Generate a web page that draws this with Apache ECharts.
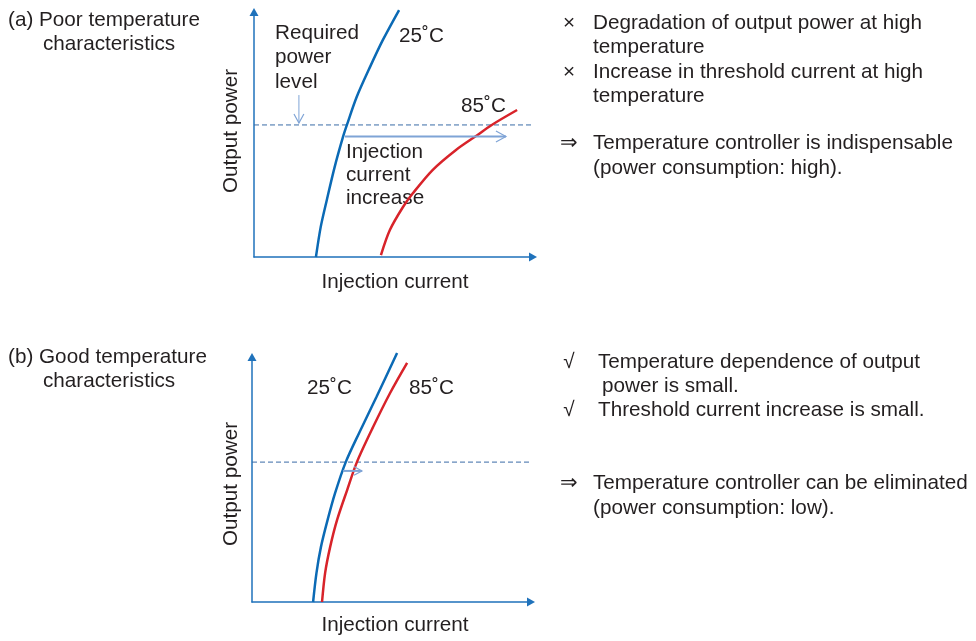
<!DOCTYPE html>
<html>
<head>
<meta charset="utf-8">
<script src="https://cdn.jsdelivr.net/npm/echarts@6/dist/echarts.min.js"></script>
<style>
html,body{margin:0;padding:0;background:#fff;}
#chart{width:976px;height:641px;}
</style>
</head>
<body>
<div id="chart"></div>
<script>
// ---- Data (arbitrary units: injection current 0..100, output power 0..100) ----
// Panel (a): poor temperature characteristics
const curveA25 = [[22.2,0],[23.9,12.2],[26.1,23.3],[28.9,36.7],[31.9,49.0],[33.3,53.9],[36.8,65.3],[41.6,77.6],[46.2,88.6],[52.0,100.8]];
const curveA85 = [[45.5,0.8],[48.7,11.0],[53.4,20.4],[57.0,26.1],[64.0,35.5],[72.4,43.7],[79.6,49.4],[85.2,53.9],[94.3,60.0]];
const requiredLevelA = 53.9;
const shiftArrowA = [32.6,49.2,90.3,49.2];
const levelArrowA = [16.1,66.1,16.1,54.7];
// Panel (b): good temperature characteristics
const curveB25 = [[21.9,0],[23.1,11.8],[24.7,22.4],[27.1,33.5],[29.8,44.5],[33.6,57.1],[38.4,69.0],[44.6,83.7],[52.0,101.6]];
const curveB85 = [[25.1,0],[26.2,11.8],[28.0,22.4],[30.5,33.5],[34.1,45.7],[37.6,57.1],[43.4,71.4],[49.5,85.3],[55.6,97.6]];
const requiredLevelB = 57.1;
const shiftArrowB = [32.6,53.5,39.4,53.5];

// ---- Texts ----
const textsA = {
  title: ['(a) Poor temperature', 'characteristics'],
  required: ['Required', 'power', 'level'],
  increase: ['Injection', 'current', 'increase'],
  t25: '25˚C', t85: '85˚C',
  notes: ['Degradation of output power at high', 'temperature', 'Increase in threshold current at high', 'temperature'],
  concl: ['Temperature controller is indispensable', '(power consumption: high).']
};
const textsB = {
  title: ['(b) Good temperature', 'characteristics'],
  t25: '25˚C', t85: '85˚C',
  notes: ['Temperature dependence of output', 'power is small.', 'Threshold current increase is small.'],
  concl: ['Temperature controller can be eliminated', '(power consumption: low).']
};
const yName = 'Output power';
const xName = 'Injection current';

const FONT = '"Liberation Sans", Arial, Helvetica, sans-serif';
const TC = '#231f20';
const FS = 20.7;
const AXC = '#1f72bb';
const BLUE = '#0b6ab5';
const RED = '#d8232a';
const DASH = '#3a6ba6';
const ARROW = '#7fa4d6';

function txt(s, x, y, opt) {
  opt = opt || {};
  return {
    type: 'text', x: x, y: y, rotation: opt.rotation || 0,
    style: { text: s, fill: TC, font: FS + 'px ' + FONT,
      align: opt.align || 'left', verticalAlign: 'middle' },
    silent: true
  };
}

const graphics = [];
// Panel (a) texts
graphics.push(txt(textsA.title[0], 8, 20), txt(textsA.title[1], 43, 44));
textsA.required.forEach((s, i) => graphics.push(txt(s, 275, 33 + i * 24.5)));
textsA.increase.forEach((s, i) => graphics.push(txt(s, 346, 152 + i * 23.3)));
graphics.push(txt(textsA.t25, 399, 36), txt(textsA.t85, 461, 106));
graphics.push(txt(yName, 231, 131, {rotation: Math.PI / 2, align: 'center'}));
graphics.push(txt(xName, 395, 282, {align: 'center'}));
graphics.push(txt('×', 569, 23, {align: 'center'}), txt(textsA.notes[0], 593, 23), txt(textsA.notes[1], 593, 47));
graphics.push(txt('×', 569, 72, {align: 'center'}), txt(textsA.notes[2], 593, 72), txt(textsA.notes[3], 593, 96));
graphics.push(txt('⇒', 560, 143), txt(textsA.concl[0], 593, 143), txt(textsA.concl[1], 593, 168));
// Panel (b) texts
graphics.push(txt(textsB.title[0], 8, 357), txt(textsB.title[1], 43, 381));
graphics.push(txt(textsB.t25, 307, 388), txt(textsB.t85, 409, 388));
graphics.push(txt(yName, 231, 484, {rotation: Math.PI / 2, align: 'center'}));
graphics.push(txt(xName, 395, 625, {align: 'center'}));
graphics.push(txt('√', 569, 362, {align: 'center'}), txt(textsB.notes[0], 598, 362), txt(textsB.notes[1], 602, 386));
graphics.push(txt('√', 569, 410, {align: 'center'}), txt(textsB.notes[2], 598, 410));
graphics.push(txt('⇒', 560, 483), txt(textsB.concl[0], 593, 483), txt(textsB.concl[1], 593, 508));

function axisX(gi) {
  return { type: 'value', gridIndex: gi, min: 0, max: 100,
    axisLine: { show: true, onZero: false, symbol: ['none', 'triangle'], symbolSize: [9, 8],
      lineStyle: { color: AXC, width: 1.5 } },
    axisTick: { show: false }, axisLabel: { show: false }, splitLine: { show: false } };
}
function axisY(gi) {
  return { type: 'value', gridIndex: gi, min: 0, max: 100,
    axisLine: { show: true, onZero: false, symbol: ['none', 'triangle'], symbolSize: [9, 8],
      lineStyle: { color: AXC, width: 1.5 } },
    axisTick: { show: false }, axisLabel: { show: false }, splitLine: { show: false } };
}
function curve(data, color, gi) {
  return { type: 'line', xAxisIndex: gi, yAxisIndex: gi, data: data, smooth: 0.3,
    showSymbol: false, clip: false, silent: true, z: 3,
    lineStyle: { color: color, width: 2.5 } };
}
function dashed(level, xEnd, gi) {
  return { type: 'line', xAxisIndex: gi, yAxisIndex: gi, data: [[0, level], [xEnd, level]],
    showSymbol: false, clip: false, silent: true, z: 2,
    lineStyle: { color: DASH, width: 1, type: [5, 3] } };
}
function arrows(items, gi, width, head) {
  return { type: 'custom', xAxisIndex: gi, yAxisIndex: gi, data: items, clip: false, silent: true, z: 4,
    encode: { x: [0, 2], y: [1, 3] },
    renderItem: function (params, api) {
      const p1 = api.coord([api.value(0), api.value(1)]);
      const p2 = api.coord([api.value(2), api.value(3)]);
      const dx = p2[0] - p1[0], dy = p2[1] - p1[1];
      const L = Math.sqrt(dx * dx + dy * dy) || 1;
      const ux = dx / L, uy = dy / L;
      const bx = p2[0] - ux * head, by = p2[1] - uy * head;
      const nx = -uy * head * 0.55, ny = ux * head * 0.55;
      const st = { stroke: ARROW, lineWidth: width, fill: null };
      return { type: 'group', children: [
        { type: 'line', shape: { x1: p1[0], y1: p1[1], x2: p2[0], y2: p2[1] }, style: st },
        { type: 'polyline', shape: { points: [[bx + nx, by + ny], p2, [bx - nx, by - ny]] }, style: { stroke: ARROW, lineWidth: 1.2, fill: null } }
      ] };
    }
  };
}

const option = {
  backgroundColor: '#fff',
  animation: false,
  grid: [
    { left: 254, top: 12, width: 279, height: 245 },
    { left: 252, top: 357, width: 279, height: 245 }
  ],
  xAxis: [axisX(0), axisX(1)],
  yAxis: [axisY(0), axisY(1)],
  series: [
    dashed(requiredLevelA, 100.4, 0),
    curve(curveA25, BLUE, 0),
    curve(curveA85, RED, 0),
    arrows([shiftArrowA], 0, 2, 10),
    arrows([levelArrowA], 0, 1, 9),
    dashed(requiredLevelB, 102.5, 1),
    curve(curveB25, BLUE, 1),
    curve(curveB85, RED, 1),
    arrows([shiftArrowB], 1, 2, 8)
  ],
  graphic: graphics
};
const chart = echarts.init(document.getElementById('chart'), null, { renderer: 'canvas' });
chart.setOption(option);
</script>
</body>
</html>
